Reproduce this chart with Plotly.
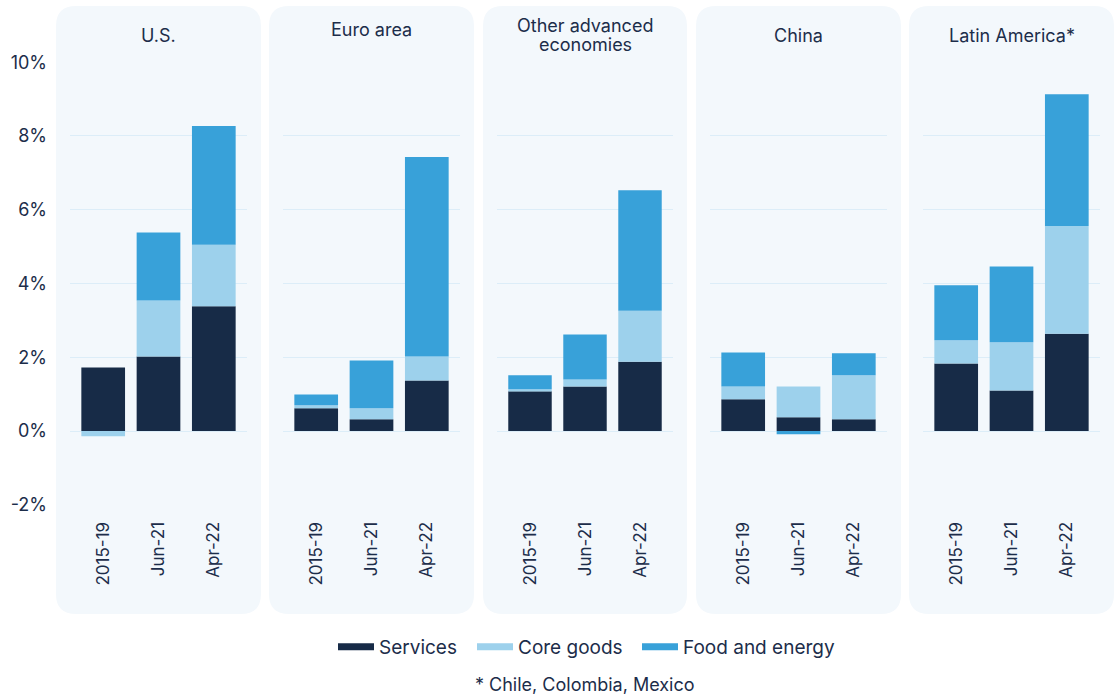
import plotly.graph_objects as go

# ---------------- data ----------------
regions = ["U.S.", "Euro area", "Other advanced<br>economies", "China", "Latin America*"]
periods = ["2015-19", "Jun-21", "Apr-22"]

services = [
    [1.72, 2.02, 3.38],   # U.S.
    [0.62, 0.32, 1.37],   # Euro area
    [1.08, 1.21, 1.88],   # Other advanced
    [0.86, 0.37, 0.32],   # China
    [1.83, 1.10, 2.64],   # Latin America
]
core_goods = [
    [-0.14, 1.52, 1.67],
    [0.08, 0.30, 0.65],
    [0.05, 0.19, 1.38],
    [0.35, 0.84, 1.19],
    [0.63, 1.31, 2.92],
]
food_energy = [
    [0.0, 1.84, 3.22],
    [0.29, 1.29, 5.41],
    [0.38, 1.22, 3.27],
    [0.92, -0.09, 0.60],
    [1.49, 2.05, 3.57],
]
series_names = ["Services", "Core goods", "Food and energy"]
y_ticks = [-2, 0, 2, 4, 6, 8, 10]
y_tick_text = ["-2%", "0%", "2%", "4%", "6%", "8%", "10%"]
footnote = "* Chile, Colombia, Mexico"

# ---------------- style ----------------
W, H = 1120, 695
colors = ["#172b47", "#9dd1ec", "#38a1d9"]
panel_bg = "#f3f8fc"
grid_col = "#dcedf8"
text_col = "#1c2d4a"
FONT = "Inter, Noto Sans, sans-serif"

plot_x = [(70, 247), (283, 460), (497, 673), (710, 887), (923, 1100)]
panel_pad = 14
plot_top, plot_bot = 62, 505
panel_top, panel_bot = 6, 614
title_y = [35, 29, 35, 35, 35]
title_line_h = 19
legend_x = [333, 472, 637]
legend_y = 647


def px(x):
    return x / W


def py(y):
    return 1 - y / H


def rounded_path(x0, y0, x1, y1, r):
    pts = [
        f"M {px(x0 + r)} {py(y0)}",
        f"L {px(x1 - r)} {py(y0)}",
        f"Q {px(x1)} {py(y0)} {px(x1)} {py(y0 + r)}",
        f"L {px(x1)} {py(y1 - r)}",
        f"Q {px(x1)} {py(y1)} {px(x1 - r)} {py(y1)}",
        f"L {px(x0 + r)} {py(y1)}",
        f"Q {px(x0)} {py(y1)} {px(x0)} {py(y1 - r)}",
        f"L {px(x0)} {py(y0 + r)}",
        f"Q {px(x0)} {py(y0)} {px(x0 + r)} {py(y0)}",
        "Z",
    ]
    return " ".join(pts)


fig = go.Figure()
series_data = [services, core_goods, food_energy]
legend_ids = ["legend", "legend2", "legend3"]

for i in range(len(regions)):
    for s, name in enumerate(series_names):
        fig.add_trace(go.Bar(
            x=periods, y=series_data[s][i], name=name,
            marker=dict(color=colors[s], line=dict(width=0)),
            xaxis=f"x{i + 1}", yaxis=f"y{i + 1}",
            showlegend=False, legendgroup=name,
        ))

# legend entries with wide swatches (one legend box per entry)
for s, name in enumerate(series_names):
    fig.add_trace(go.Scatter(
        x=[None], y=[None], mode="lines", name=name,
        line=dict(color=colors[s], width=7),
        xaxis="x1", yaxis="y1", showlegend=True, legendgroup=name,
        legend=legend_ids[s],
    ))

layout = dict(
    width=W, height=H,
    margin=dict(l=0, r=0, t=0, b=0, autoexpand=False),
    paper_bgcolor="white", plot_bgcolor="rgba(0,0,0,0)",
    barmode="relative", bargap=0.21,
    font=dict(family=FONT, color=text_col, size=16),
    shapes=[], annotations=[],
)
for s, lid in enumerate(legend_ids):
    layout[lid] = dict(
        orientation="h", x=px(legend_x[s]), xanchor="left", y=py(legend_y), yanchor="middle",
        font=dict(size=19, color=text_col, family=FONT), itemwidth=36,
        bgcolor="rgba(0,0,0,0)", borderwidth=0,
    )

pad = 0.02
for i, (x0, x1) in enumerate(plot_x):
    xa = "xaxis" if i == 0 else f"xaxis{i + 1}"
    ya = "yaxis" if i == 0 else f"yaxis{i + 1}"
    layout[xa] = dict(
        domain=[px(x0), px(x1)], anchor=f"y{i + 1}",
        type="category", categoryorder="array", categoryarray=periods,
        range=[-0.6, 2.6], automargin=False,
        tickangle=-90, showgrid=False, zeroline=False, showline=False,
        ticks="", ticklabelstandoff=12,
        tickfont=dict(size=17, color=text_col, family=FONT),
        fixedrange=True,
    )
    layout[ya] = dict(
        domain=[py(plot_bot + 0.5), py(plot_top - 0.5)], anchor=f"x{i + 1}",
        range=[-2 - pad, 10 + pad], automargin=False,
        tickvals=y_ticks, ticktext=y_tick_text,
        showticklabels=(i == 0), showgrid=True, gridcolor=grid_col, gridwidth=1,
        zeroline=False, showline=False, ticks="", ticklabelstandoff=22,
        tickfont=dict(size=18, color=text_col, family=FONT),
        fixedrange=True,
    )
    layout["shapes"].append(dict(
        type="path", xref="paper", yref="paper", layer="below",
        path=rounded_path(x0 - panel_pad, panel_top, x1 + panel_pad, panel_bot, 20),
        fillcolor=panel_bg, line=dict(width=0),
    ))
    lines = regions[i].split("<br>")
    n = len(lines)
    for k, line in enumerate(lines):
        yy = title_y[i] + (k - (n - 1) / 2) * title_line_h
        layout["annotations"].append(dict(
            text=line, xref="paper", yref="paper",
            x=px((x0 + x1) / 2), y=py(yy), xanchor="center", yanchor="middle",
            showarrow=False, font=dict(size=18, color=text_col, family=FONT),
        ))

layout["annotations"].append(dict(
    text=footnote, xref="paper", yref="paper", x=px(585), y=py(684),
    xanchor="center", yanchor="middle", showarrow=False,
    font=dict(size=18, color=text_col, family=FONT),
))

fig.update_layout(**layout)
fig.write_html(
    "out.html",
    config={"displayModeBar": False},
    post_script="document.body.style.margin='0';document.body.style.overflow='hidden';",
)
